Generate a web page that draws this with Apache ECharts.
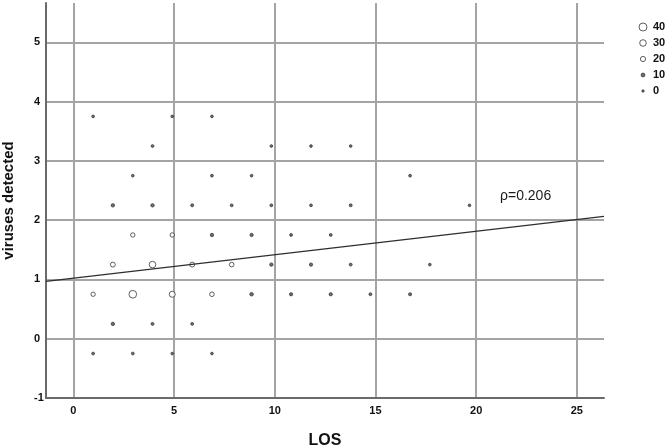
<!DOCTYPE html>
<html>
<head>
<meta charset="utf-8">
<script src="https://cdn.jsdelivr.net/npm/echarts@6/dist/echarts.min.js"></script>
<style>
  html, body { margin: 0; padding: 0; background: #fff; }
  #main { width: 669px; height: 447px; }
</style>
</head>
<body>
<div id="main"></div>
<script>
// binned points: one row per y bin centre, x = LOS bin centres
var rowY = [3.75, 3.25, 2.75, 2.25, 1.75, 1.25, 0.75, 0.25, -0.25];
var rowX = [
    [0.98, 4.91, 6.88],
    [3.93, 9.83, 11.80, 13.77],
    [2.95, 6.88, 8.85, 16.72],
    [1.96, 3.93, 5.90, 7.86, 9.83, 11.80, 13.77, 19.67],
    [2.95, 4.91, 6.88, 8.85, 10.81, 12.78],
    [1.96, 3.93, 5.90, 7.86, 9.83, 11.80, 13.77, 17.70],
    [0.98, 2.95, 4.91, 6.88, 8.85, 10.81, 12.78, 14.75, 16.72],
    [1.96, 3.93, 5.90],
    [0.98, 2.95, 4.91, 6.88]
];
var rowCount = [
    [2, 2, 2],
    [3, 2, 2, 2],
    [2, 3, 2, 3],
    [7, 7, 4, 3, 3, 3, 4, 2],
    [14, 14, 7, 6, 3, 3],
    [18, 30, 18, 16, 7, 6, 4, 2],
    [14, 38, 26, 16, 8, 6, 6, 3, 5],
    [7, 4, 3],
    [3, 3, 2, 2]
];
var sizeLegend = ['40', '30', '20', '10', '0'];
var fitIntercept = 1.022;
var fitSlope = 0.0395;
var rhoText = 'ρ=0.206';

var xMin = -1.36, xMax = 26.35;
var yMin = -1, yMax = 5.663;

var chart = echarts.init(document.getElementById('main'));

function sizeOf(n) {
    return 2.4 + n * 0.14;
}
// small bins read as solid dots, bigger ones as open rings
function fillOf(n) {
    return n < 12 ? '#4a4a4a' : '#fff';
}

var points = [];
rowY.forEach(function (y, i) {
    rowX[i].forEach(function (x, j) {
        points.push([x, y, rowCount[i][j]]);
    });
});

var fitLine = [
    [xMin, fitIntercept + fitSlope * xMin],
    [xMax, fitIntercept + fitSlope * xMax]
];

var font = 'Liberation Sans, Arial, sans-serif';

var option = {
    animation: false,
    backgroundColor: '#fff',
    grid: [
        { left: 46, right: 65, top: 3, bottom: 49, outerBoundsMode: 'none' },
        { left: 636, width: 14, top: 19, height: 80, outerBoundsMode: 'none' }
    ],
    xAxis: [{
        type: 'value',
        gridIndex: 0,
        min: xMin,
        max: xMax,
        name: 'LOS',
        nameLocation: 'middle',
        nameGap: 35,
        nameMoveOverlap: false,
        nameTextStyle: { fontFamily: font, fontWeight: 'bold', fontSize: 16, color: '#111' },
        axisLine: { show: true, onZero: false, lineStyle: { color: '#6a6a6a', width: 2 } },
        axisTick: { show: false },
        axisLabel: {
            showMinLabel: false, showMaxLabel: false, margin: 7,
            fontFamily: font, fontWeight: 'bold', fontSize: 11, color: '#111'
        },
        splitLine: { show: true, showMinLine: false, showMaxLine: false, lineStyle: { color: '#a4a4a4', width: 2 } }
    }, {
        type: 'value', gridIndex: 1, min: 0, max: 2, show: false
    }],
    yAxis: [{
        type: 'value',
        gridIndex: 0,
        min: yMin,
        max: yMax,
        interval: 1,
        name: 'viruses detected',
        nameLocation: 'middle',
        nameGap: 30,
        nameMoveOverlap: false,
        nameTextStyle: { fontFamily: font, fontWeight: 'bold', fontSize: 15, color: '#111' },
        axisLine: { show: true, onZero: false, lineStyle: { color: '#6a6a6a', width: 2 } },
        axisTick: { show: false },
        axisLabel: {
            showMaxLabel: false, margin: 12, align: 'left',
            fontFamily: font, fontWeight: 'bold', fontSize: 11, color: '#111'
        },
        splitLine: { show: true, showMinLine: false, showMaxLine: false, lineStyle: { color: '#a4a4a4', width: 2 } }
    }, {
        type: 'category',
        gridIndex: 1,
        position: 'right',
        data: sizeLegend,
        inverse: true,
        axisLine: { show: false },
        axisTick: { show: false },
        splitLine: { show: false },
        axisLabel: {
            margin: 3, align: 'left',
            fontFamily: font, fontWeight: 'bold', fontSize: 11, color: '#111'
        }
    }],
    series: [{
        type: 'scatter',
        xAxisIndex: 0,
        yAxisIndex: 0,
        data: points,
        symbol: 'circle',
        symbolSize: function (d) { return sizeOf(d[2]); },
        itemStyle: {
            color: function (p) { return fillOf(p.data[2]); },
            borderColor: '#3a3a3a',
            borderWidth: 1
        },
        z: 3
    }, {
        type: 'line',
        xAxisIndex: 0,
        yAxisIndex: 0,
        data: fitLine,
        symbol: 'none',
        lineStyle: { color: '#2e2e2e', width: 1.3 },
        z: 4
    }, {
        type: 'scatter',
        xAxisIndex: 1,
        yAxisIndex: 1,
        data: sizeLegend.map(function (v) { return [1, v]; }),
        symbol: 'circle',
        symbolSize: function (d) { return sizeOf(+d[1]); },
        itemStyle: {
            color: function (p) { return fillOf(+p.data[1]); },
            borderColor: '#3a3a3a',
            borderWidth: 1
        }
    }],
    graphic: [{
        type: 'text',
        left: 500,
        top: 189,
        style: { text: rhoText, font: '14px ' + font, fill: '#1a1a1a' }
    }]
};

chart.setOption(option);
</script>
</body>
</html>
